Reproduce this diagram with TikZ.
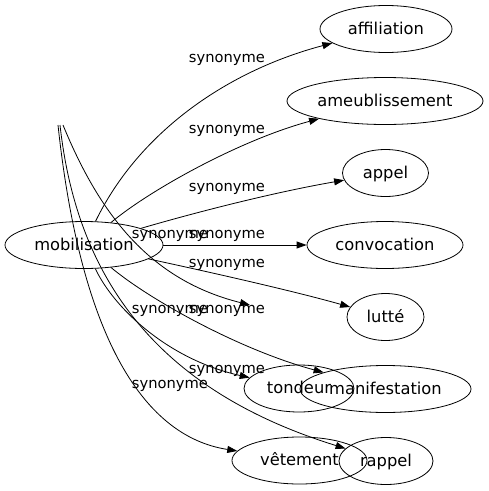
\documentclass[tikz,border=0pt]{standalone}
\usepackage{fontspec}
\setmainfont{DejaVu Sans}
\usetikzlibrary{arrows.meta,shapes.geometric}
\begin{document}
\begin{tikzpicture}[x=1pt,y=-1pt,
  word/.style={draw,ellipse,inner sep=0pt,line width=0.8pt,minimum height=47pt,
    font=\fontsize{16.3}{19}\selectfont,text height=11pt,text depth=1pt},
  lbl/.style={font=\fontsize{14.7}{17}\selectfont,anchor=base,inner sep=0pt},
  link/.style={line width=0.8pt,-{Triangle[length=10pt,width=7pt]}}]
\useasboundingbox (0,0) rectangle (489,491);
% nodes
\node[word,minimum width=158pt] (mob) at (84,245) {mobilisation};
\node[word,minimum width=132pt] (aff) at (386,29) {affiliation};
\node[word,minimum width=196pt] (ame) at (385,101) {ameublissement};
\node[word,minimum width=86pt]  (app) at (385.5,173) {appel};
\node[word,minimum width=156pt] (con) at (385,245) {convocation};
\node[word,minimum width=77pt]  (lut) at (385.5,317) {lutté};
\node[word,minimum width=110pt] (ton) at (299,388.5) {tondeur};
\node[word,minimum width=171pt] (man) at (385.5,389) {manifestation};
\node[word,minimum width=135pt] (vet) at (299.5,460.5) {vêtement};
\node[word,minimum width=94pt]  (rap) at (386,461) {rappel};
% free ends
\coordinate (t1) at (58,125);
\coordinate (t2) at (60,125);
\coordinate (t3) at (63,125);
\coordinate (fe) at (250,305);
% edges
\draw[link] (mob) .. controls (140,130) and (230,70) .. (aff)
  node[lbl] (l1) at (227,62) {synonyme};
\draw[link] (mob) .. controls (150,190) and (240,140) .. (ame)
  node[lbl] (l2) at (227,133) {synonyme};
\draw[link] (mob) .. controls (190,214) and (270,193) .. (app)
  node[lbl] (l3) at (227,191) {synonyme};
\draw[link] (mob) -- (con)
  node[lbl] (l4) at (227,238) {synonyme};
\draw[link] (mob) .. controls (200,270) and (290,290) .. (lut)
  node[lbl] (l5) at (227,267) {synonyme};
\draw[link] (t3) .. controls (100,215) and (150,280) .. (fe)
  node[lbl] (l6) at (170,238) {synonyme};
\draw[link] (mob) .. controls (115,310) and (170,360) .. (ton)
  node[lbl] (l7) at (227,373) {synonyme};
\draw[link] (mob) .. controls (150,300) and (240,350) .. (man)
  node[lbl] (l8) at (227,313) {synonyme};
\draw[link] (t1) .. controls (80,330) and (140,436) .. (vet)
  node[lbl] (l9) at (170,388) {synonyme};
\draw[link] (t2) .. controls (75,260) and (140,385) .. (rap)
  node[lbl] (l10) at (170,313) {synonyme};
\end{tikzpicture}
\end{document}
